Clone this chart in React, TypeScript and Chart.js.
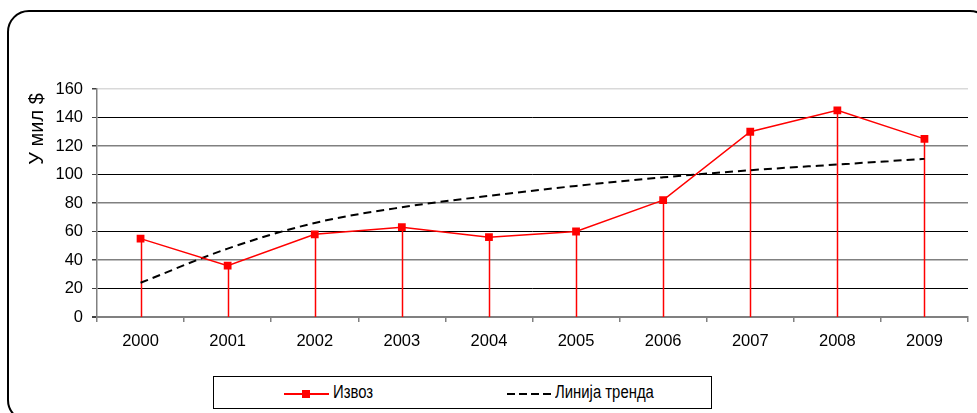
import React, { useEffect, useRef } from "react";
import { Chart, registerables } from "chart.js";

Chart.register(...registerables);

const categories = ["2000", "2001", "2002", "2003", "2004", "2005", "2006", "2007", "2008", "2009"];
const exportValues = [55, 36, 58, 63, 56, 60, 82, 130, 145, 125];
const trendValues = [24, 48, 66, 77, 85, 92, 98, 103, 107, 111];
const seriesNames = ["Извоз", "Линија тренда"];
const yAxisTitle = "У мил $";
const yMin = 0;
const yMax = 160;
const yStep = 20;

const FONT = "'Liberation Sans', Arial, sans-serif";

const dropLinesPlugin = {
  id: "dropLines",
  beforeDatasetsDraw(chart: any) {
    const meta = chart.getDatasetMeta(0);
    const yScale = chart.scales.y;
    const base = yScale.getPixelForValue(0);
    const ctx = chart.ctx;
    ctx.save();
    ctx.strokeStyle = "#ff0000";
    ctx.lineWidth = 1.5;
    meta.data.forEach((pt: any) => {
      ctx.beginPath();
      ctx.moveTo(Math.round(pt.x) + 0.5, pt.y);
      ctx.lineTo(Math.round(pt.x) + 0.5, base);
      ctx.stroke();
    });
    ctx.restore();
  },
};

const yTitlePlugin = {
  id: "yTitle",
  afterDraw(chart: any) {
    const ctx = chart.ctx;
    ctx.save();
    ctx.translate(37, 129);
    ctx.rotate(-Math.PI / 2);
    ctx.font = `20px ${FONT}`;
    ctx.fillStyle = "#000";
    ctx.textAlign = "center";
    ctx.textBaseline = "middle";
    ctx.fillText(yAxisTitle, 0, 0);
    ctx.restore();
  },
};

export default function App() {
  const canvasRef = useRef<HTMLCanvasElement | null>(null);

  useEffect(() => {
    document.body.style.margin = "0";
    document.body.style.overflow = "hidden";
    const canvas = canvasRef.current;
    if (!canvas) return;
    const chart = new Chart(canvas, {
      type: "line",
      data: {
        labels: categories,
        datasets: [
          {
            label: seriesNames[0],
            data: exportValues,
            borderColor: "#ff0000",
            backgroundColor: "#ff0000",
            borderWidth: 1.5,
            pointStyle: "rect",
            pointRadius: 5.5,
            pointBorderWidth: 0,
            pointBackgroundColor: "#ff0000",
            tension: 0,
          },
          {
            label: seriesNames[1],
            data: trendValues,
            borderColor: "#000000",
            borderWidth: 2,
            borderDash: [8, 5],
            pointRadius: 0,
            tension: 0.4,
            cubicInterpolationMode: "monotone",
          },
        ],
      },
      options: {
        responsive: false,
        animation: false,
        layout: { padding: { left: 0, top: 89, right: 9, bottom: 0 } },
        plugins: {
          legend: { display: false },
          tooltip: { enabled: false },
        },
        scales: {
          x: {
            offset: true,
            grid: {
              display: true,
              drawOnChartArea: false,
              drawTicks: true,
              tickLength: 5,
              offset: true,
              color: "#808080",
              lineWidth: 1.5,
            },
            border: { display: true, color: "#808080", width: 2 },
            ticks: {
              color: "#000",
              padding: 10,
              font: { family: FONT, size: 16.5 },
              maxRotation: 0,
              autoSkip: false,
            },
            afterFit(scale: any) {
              scale.height = 96;
            },
          },
          y: {
            min: yMin,
            max: yMax,
            grid: {
              drawTicks: true,
              tickLength: 5,
              color: (ctx: any) => {
                const v = ctx.tick ? ctx.tick.value : 0;
                if (v === 0) return "#808080";
                if (v === 160) return "#d9d9d9";
                return (v / 20) % 2 === 0 ? "#808080" : "#000000";
              },
              lineWidth: (ctx: any) => {
                const v = ctx.tick ? ctx.tick.value : 0;
                if (v === 0) return 2;
                return (v / 20) % 2 === 0 ? 1.5 : 1;
              },
              tickColor: "#404040",
            },
            border: { display: true, color: "#808080", width: 1.5 },
            ticks: {
              stepSize: yStep,
              color: "#000",
              padding: 9,
              font: { family: FONT, size: 16.5 },
            },
            afterFit(scale: any) {
              scale.width = 97;
            },
          },
        },
      },
      plugins: [dropLinesPlugin, yTitlePlugin],
    });
    return () => chart.destroy();
  }, []);

  const legendText = (left: number, text: string) => (
    <div
      style={{
        position: "absolute",
        left,
        top: 6,
        fontSize: 17.5,
        lineHeight: "19px",
        color: "#000",
        whiteSpace: "nowrap",
        transform: "scaleX(0.85)",
        transformOrigin: "left center",
      }}
    >
      {text}
    </div>
  );

  return (
    <div
      style={{
        position: "fixed",
        left: 0,
        top: 0,
        width: 977,
        height: 413,
        overflow: "hidden",
        background: "#fff",
        fontFamily: FONT,
      }}
    >
      <div
        style={{
          position: "absolute",
          left: 7,
          top: 10,
          width: 985,
          height: 412,
          border: "2px solid #000",
          borderRadius: 22,
          boxSizing: "border-box",
        }}
      />
      <canvas
        ref={canvasRef}
        width={977}
        height={413}
        style={{ position: "absolute", left: 0, top: 0, width: 977, height: 413 }}
      />
      <div
        style={{
          position: "absolute",
          left: 213,
          top: 376,
          width: 499,
          height: 33,
          border: "1px solid #000",
          boxSizing: "border-box",
          background: "#fff",
        }}
      >
        <div style={{ position: "absolute", left: 70, top: 16, width: 45, height: 2, background: "#ff0000" }} />
        <div style={{ position: "absolute", left: 88, top: 13, width: 8, height: 8, background: "#ff0000" }} />
        {legendText(119, seriesNames[0])}
        <div
          style={{
            position: "absolute",
            left: 293,
            top: 16,
            width: 45,
            height: 2,
            background: "repeating-linear-gradient(90deg, #000 0px, #000 8px, transparent 8px, transparent 12px)",
          }}
        />
        {legendText(341, seriesNames[1])}
      </div>
    </div>
  );
}
